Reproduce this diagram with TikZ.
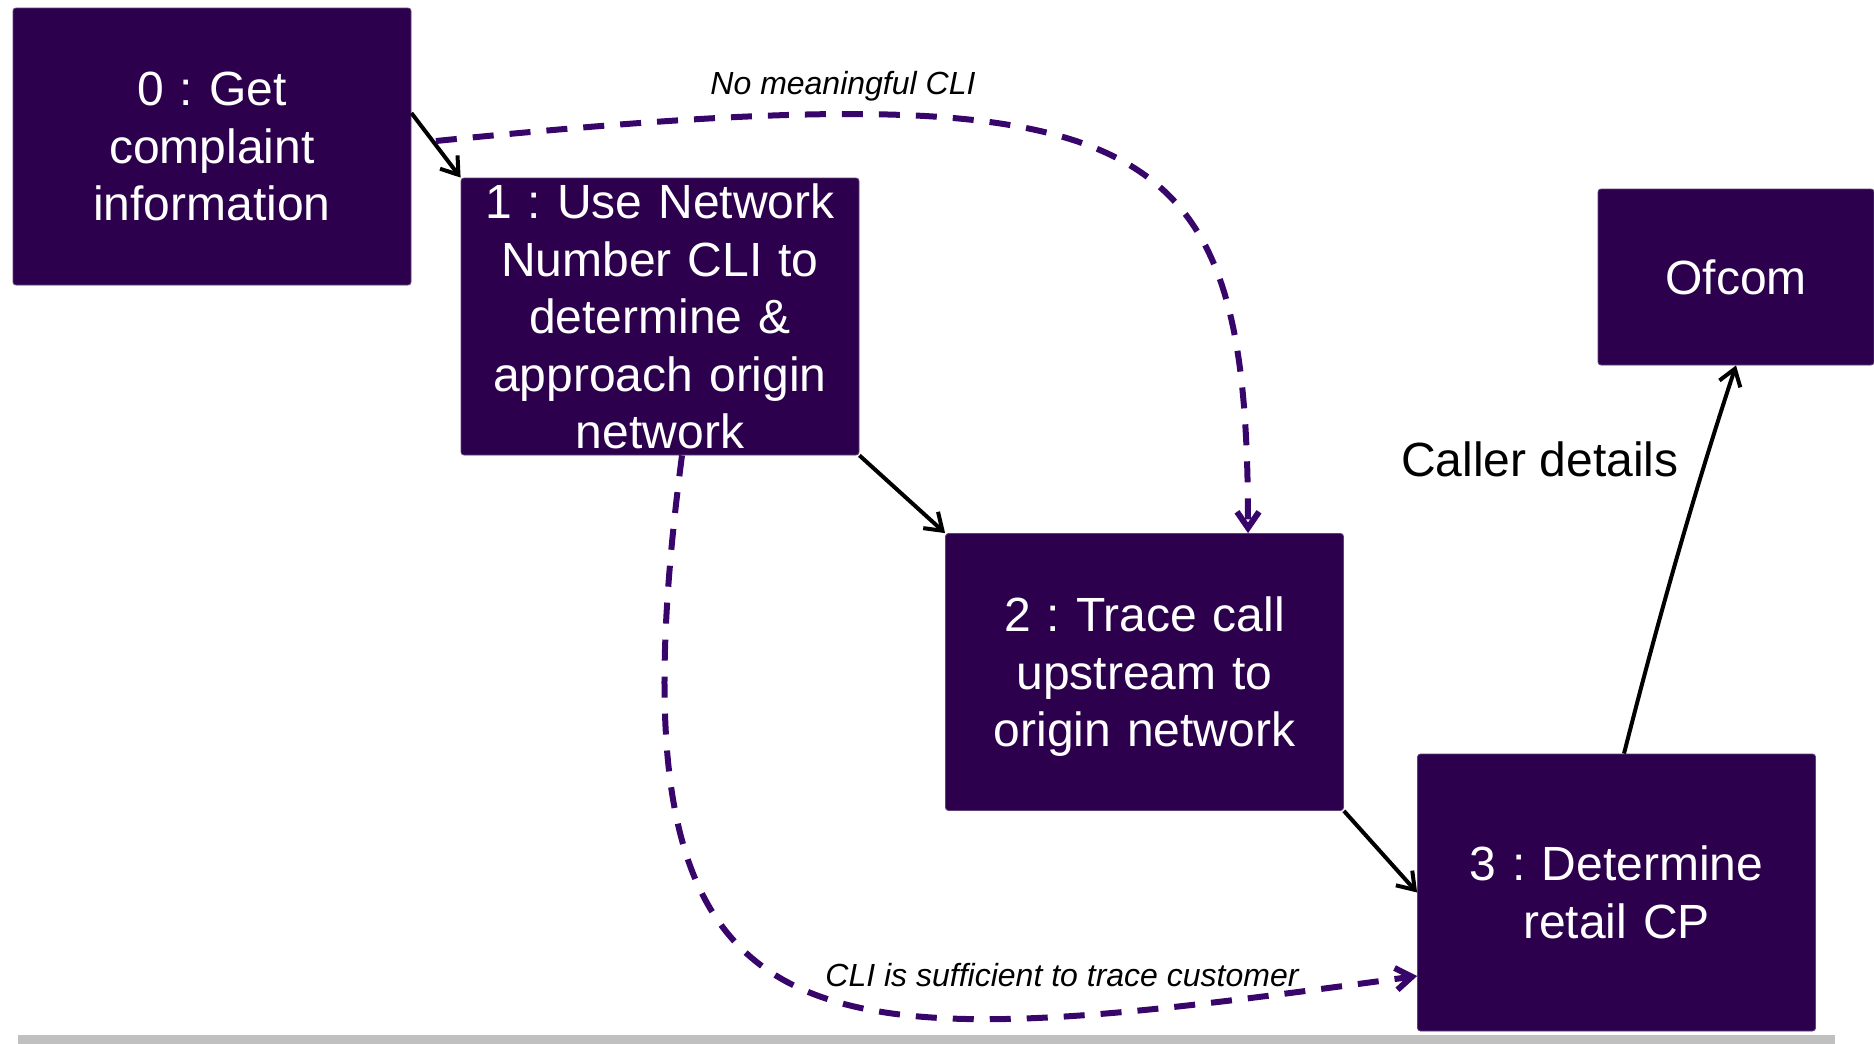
\documentclass[tikz,border=0pt]{standalone}
\usepackage{fontspec}
\setmainfont{Liberation Sans}
\usetikzlibrary{arrows.meta,calc}
\definecolor{boxpurple}{RGB}{44,0,76}
\definecolor{dashpurple}{RGB}{56,6,106}
\definecolor{bargray}{RGB}{192,192,192}
\frenchspacing
\newcommand{\nodepth}[1]{\raisebox{0pt}[\height][0pt]{#1}}
\begin{document}
\begin{tikzpicture}[x=0.5pt,y=-0.5pt,
  stepbox/.style={fill=boxpurple, draw=boxpurple!75!white, line width=0.4pt, rounded corners=1.5pt,
    text=white, inner sep=0pt, minimum width=199pt, minimum height=138.5pt,
    text width=196pt, align=center, font=\fontsize{24}{28.7}\selectfont},
  flow/.style={draw=black, line width=2pt, -{Straight Barb[length=8pt,width=11pt]}},
  alt/.style={draw=dashpurple, line width=3pt, dash pattern=on 10.5pt off 8pt,
    -{Straight Barb[length=8pt,width=11pt]}},
  note/.style={font=\fontsize{16}{19}\selectfont\itshape, inner sep=0pt},
  big/.style={font=\fontsize{24}{28.7}\selectfont, inner sep=0pt}]
\useasboundingbox (0,0) rectangle (1874,1044);

\fill[bargray] (18,1035) rectangle (1835,1044);

\node[stepbox] (b0) at (212,146.5) {0 : Get\\complaint\\information};
\node[stepbox] (b1) at (660,316.5) {1 : Use Network\\Number CLI to\\determine \&\\approach origin\\network};
\node[stepbox] (b2) at (1144.5,672) {2 : Trace call\\upstream to\\\nodepth{origin network}};
\node[stepbox] (b3) at (1616.5,892.5) {3 : Determine\\retail CP};
\node[stepbox, minimum width=138pt, minimum height=88pt, text width=130pt] (of) at (1736,277) {Ofcom};

\draw[flow] ($(b0.east)+(0,-33.5)$) -- (b1.north west);
\draw[flow] (b1.south east) -- (b2.north west);
\draw[flow] (b2.south east) -- (b3.west);
\draw[flow] ($(b3.north)+(7.5,0)$) .. controls (1657,624) and (1693.5,494) .. (of.south);

\draw[alt] ($(b0.east)+(24.5,-5.5)$) .. controls (1150,70) and (1248,120) .. ($(b2.north)+(103.5,0)$);
\draw[alt] ($(b1.south)+(22,0)$) .. controls (600,1080) and (800,1060) .. ($(b3.west)+(0,83.5)$);

\node[note] (l1) at (843,86.5) {No meaningful CLI};
\node[note] (l2) at (1062,975) {CLI is sufficient to trace customer};
\node[big] (l3) at (1540,459) {Caller details};
\end{tikzpicture}
\end{document}
